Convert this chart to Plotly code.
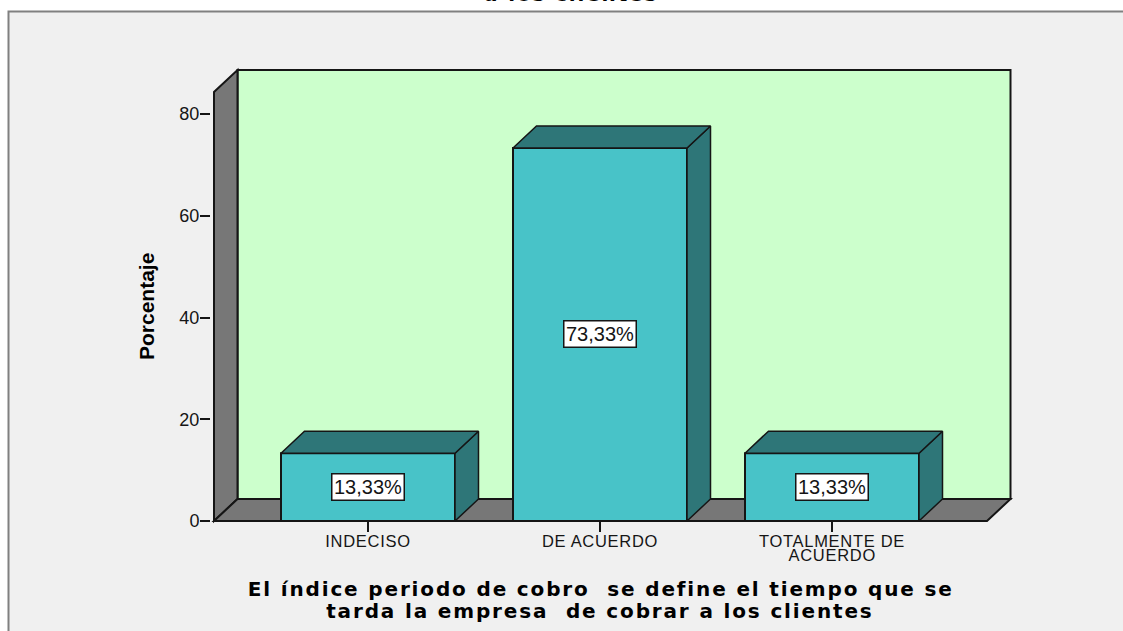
import plotly.graph_objects as go

categories = ["INDECISO", "DE ACUERDO", "TOTALMENTE DE<br>ACUERDO"]
values = [13.33, 73.33, 13.33]
value_labels = ["13,33%", "73,33%", "13,33%"]
y_ticks = [0, 20, 40, 60, 80]
x_title_lines = ["El índice periodo de cobro\u00a0\u00a0se define el tiempo que se",
                 "tarda la empresa\u00a0\u00a0de cobrar a los clientes"]
y_title = "Porcentaje"
clipped_title = "a los clientes"

W, H = 1123, 631
# Scale: pixel geometry of the plot
PX_ZERO_Y, PX_PER_UNIT = 521, 5.0875
PX_CAT0, PX_PER_CAT = 368, 232
BAR_W = 174 / 232
DX, DY = 23.5 / 232, 22 / 5.0875            # oblique depth in axis units
WALL_TOP = (521 - 92) / 5.0875
FLOOR_L, FLOOR_R = (214 - 368) / 232, (987 - 368) / 232

P_L, P_R, P_T, P_B = 211, 1013, 67, 530
x_range = [(P_L - PX_CAT0) / PX_PER_CAT, (P_R - PX_CAT0) / PX_PER_CAT]
y_range = [(PX_ZERO_Y - P_B) / PX_PER_UNIT, (PX_ZERO_Y - P_T) / PX_PER_UNIT]

TEAL, DARK, GREY, GREEN, INK = "#48c3c8", "#2e7678", "#777777", "#ccffcc", "#151515"
PANEL, FRAME = "#f0f0f0", "#808080"
xs = list(range(len(categories)))
tick_first = [c.split("<br>")[0] for c in categories]


def path(points):
    return "M " + " L ".join(f"{x} {y}" for x, y in points) + " Z"


fig = go.Figure()

# Back wall, left wall, floor
shapes = [
    dict(type="rect", xref="paper", yref="paper", x0=8.5 / W, x1=1.2, y0=-0.2, y1=1 - 11.5 / H,
         fillcolor=PANEL, line=dict(color=FRAME, width=2), layer="below"),
    dict(type="path", path=path([(FLOOR_L + DX, DY), (FLOOR_R + DX, DY), (FLOOR_R + DX, WALL_TOP + DY), (FLOOR_L + DX, WALL_TOP + DY)]),
         fillcolor=GREEN, line=dict(color=INK, width=2), layer="below"),
    dict(type="path", path=path([(FLOOR_L, 0), (FLOOR_L + DX, DY), (FLOOR_L + DX, WALL_TOP + DY), (FLOOR_L, WALL_TOP)]),
         fillcolor=GREY, line=dict(color=INK, width=2), layer="below"),
    dict(type="path", path=path([(FLOOR_L, 0), (FLOOR_R, 0), (FLOOR_R + DX, DY), (FLOOR_L + DX, DY)]),
         fillcolor=GREY, line=dict(color=INK, width=2), layer="below"),
]

fig.add_trace(go.Bar(x=xs, y=values, width=BAR_W, marker=dict(color=TEAL, line=dict(color=INK, width=2)),
                     hoverinfo="skip", showlegend=False))

# Top and side faces of each bar, derived from its value
for x, v in zip(xs, values):
    l, r = x - BAR_W / 2, x + BAR_W / 2
    top_x = [l, r, r + DX, l + DX, l]
    top_y = [v, v, v + DY, v + DY, v]
    side_x = [r, r + DX, r + DX, r, r]
    side_y = [0, DY, v + DY, v, 0]
    for fx, fy in ((side_x, side_y), (top_x, top_y)):
        fig.add_trace(go.Scatter(x=fx, y=fy, mode="lines", fill="toself", fillcolor=DARK,
                                 line=dict(color=INK, width=1.5), hoverinfo="skip", showlegend=False))

annotations = [
    dict(x=x, y=v / 2, text=t, showarrow=False, font=dict(family="Liberation Sans", size=20, color=INK),
         bgcolor="white", bordercolor=INK, borderwidth=1.5, borderpad=1.5)
    for x, v, t in zip(xs, values, value_labels)
]
# Second lines of wrapped category labels (tight line spacing)
for x, c in zip(xs, categories):
    if "<br>" in c:
        annotations.append(dict(x=x, xref="x", y=1 - 555 / H, yref="paper", text=c.split("<br>")[1], showarrow=False,
                                font=dict(family="Liberation Sans", size=16.5, color=INK), yanchor="middle"))
for line, py in zip(x_title_lines, (589, 611)):
    annotations.append(dict(x=600 / W, xref="paper", y=1 - py / H, yref="paper", text=line, showarrow=False,
                            font=dict(family="DejaVu Sans", size=20, color="#000000", weight="bold"), yanchor="middle"))
annotations += [
    dict(x=147 / W, xref="paper", y=1 - 307 / H, yref="paper", text=y_title, showarrow=False, textangle=-90,
         font=dict(family="Liberation Sans", size=21, color="#000000", weight="bold"), yanchor="middle", xanchor="center"),
    dict(x=571 / W, xref="paper", y=1 - 8 / H, yref="paper", text=clipped_title, showarrow=False,
         font=dict(family="DejaVu Sans", size=20, color="#000000", weight="bold"), yanchor="bottom"),
]

fig.update_layout(
    width=W, height=H, margin=dict(l=0, r=0, t=0, b=0),
    paper_bgcolor="white", plot_bgcolor="rgba(0,0,0,0)",
    showlegend=False, shapes=shapes, annotations=annotations,
    xaxis=dict(domain=[P_L / W, P_R / W], range=x_range, tickvals=xs, ticktext=tick_first,
               anchor="free", position=1 - PX_ZERO_Y / H, showgrid=False, zeroline=False, showline=False,
               ticks="outside", ticklen=10, tickwidth=1.5, tickcolor=INK, ticklabelstandoff=-5,
               tickfont=dict(family="Liberation Sans", size=16.5, color=INK)),
    yaxis=dict(domain=[1 - P_B / H, 1 - P_T / H], range=y_range, tickvals=y_ticks,
               showgrid=False, zeroline=False, showline=False,
               ticks="outside", ticklen=10, tickwidth=1.5, tickcolor=INK, ticklabelstandoff=-3,
               tickfont=dict(family="Liberation Sans", size=18, color=INK)),
)

page_js = """
document.body.style.margin='0';document.body.style.overflow='hidden';
document.querySelectorAll('text.annotation-text').forEach(function(t){
  var fs=t.style.fontSize;
  if(fs==='20px' && t.style.fontFamily.indexOf('DejaVu')>=0){t.style.letterSpacing='1.85px';}
  if(fs==='16.5px'){t.style.letterSpacing='0.7px';}
});
document.querySelectorAll('.xtick text').forEach(function(t){t.style.letterSpacing='0.7px';});
"""
fig.write_html("out.html", post_script=page_js, config=dict(displayModeBar=False))
